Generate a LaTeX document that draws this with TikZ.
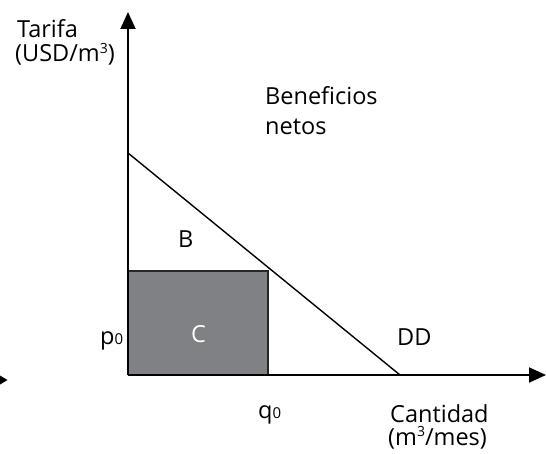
\documentclass[tikz,border=0pt]{standalone}
\usepackage{fontspec}
\setmainfont{Open Sans}
\usetikzlibrary{arrows.meta}
\newcommand{\supthree}{\smash{\raisebox{0.38em}{\fontsize{14}{14}\selectfont 3}}}
\newcommand{\smallzero}{{\fontsize{15}{15}\selectfont 0}}
\tikzset{
  axis/.style={line width=2pt, -{Triangle[length=17pt,width=15pt]}},
  lbl/.style={anchor=base west, inner sep=0pt, font=\fontsize{23.5}{26}\selectfont},
  demand/.style={line width=1.4pt}
}
\definecolor{boxgray}{RGB}{128,129,132}
\begin{document}
\begin{tikzpicture}[x=1pt,y=-1pt]
\useasboundingbox (0,0) rectangle (546,454);
\coordinate (O) at (128,375);
\coordinate (ytop) at (128,12);
\coordinate (xend) at (546,375);
\coordinate (d1) at (128,153);
\coordinate (d2) at (400,375);
\coordinate (r1) at (268,271);
% cost rectangle
\fill[boxgray] (O) rectangle (r1);
\draw[line width=1.6pt, draw=black!85] (128,271) -- (r1) -- (268,375);
% demand line
\draw[demand] (d1) -- (d2);
% axes
\draw[axis] (O) -- (ytop);
\draw[axis] (O) -- (xend);
% fragment arrow at left edge
\fill (0,375.5) -- (7.5,380) -- (0,384.5) -- cycle;
% labels
\node[lbl] (tarifa) at (17,38) {Tarifa};
\node[lbl] (usd) at (15,62) {(USD/m\supthree)};
\node[lbl] (ben) at (265,105) {Beneficios};
\node[lbl] (net) at (265,135) {netos};
\node[lbl] (B) at (178,248) {B};
\node[lbl, text=white] (C) at (191,342) {C};
\node[lbl] (p0) at (100,344) {p\smallzero};
\node[lbl] (q0) at (258,418) {q\smallzero};
\node[lbl] (DD) at (397,345) {DD};
\node[lbl] (cant) at (390,422) {Cantidad};
\node[lbl] (mes) at (388,445) {(m\supthree/mes)};
\end{tikzpicture}
\end{document}
